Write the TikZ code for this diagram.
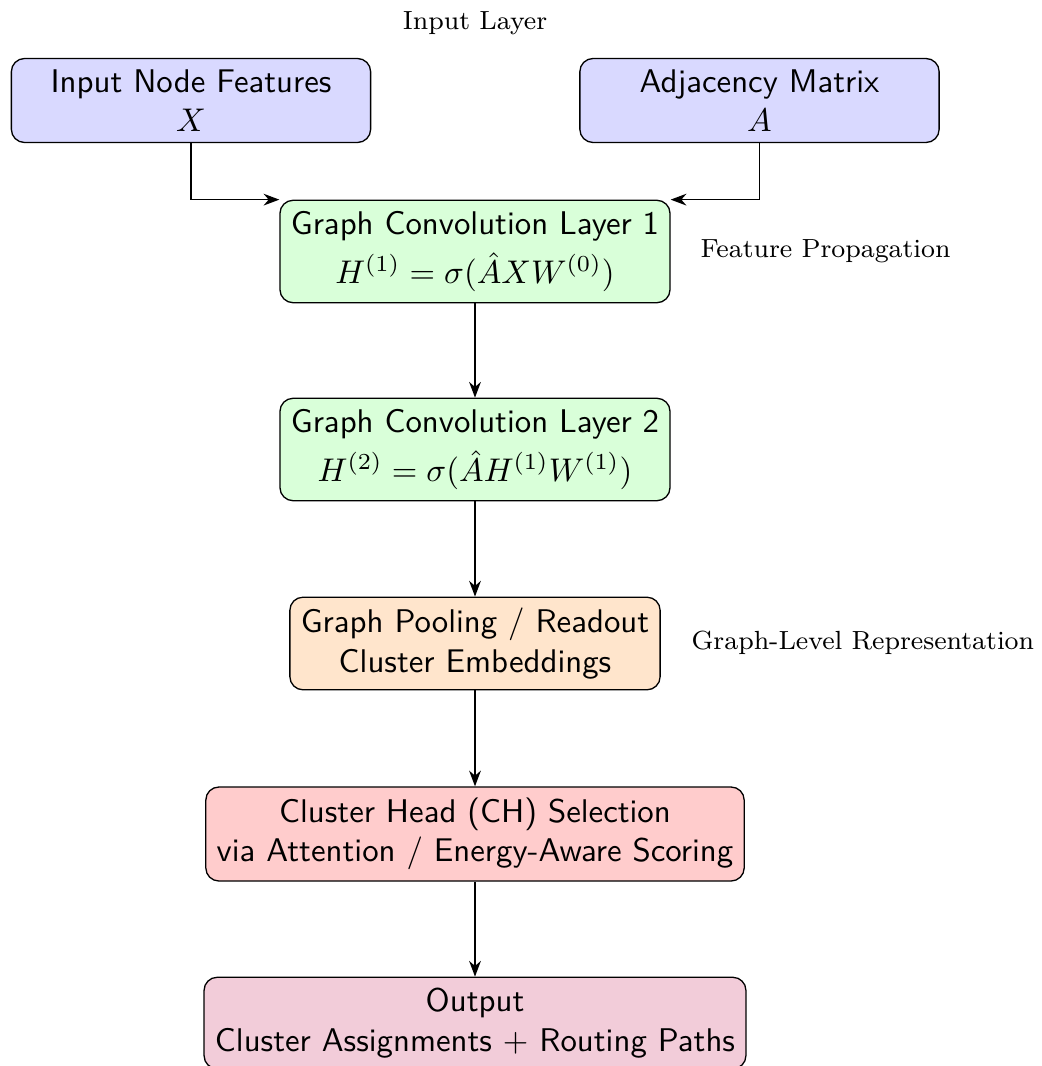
\documentclass[tikz,border=0pt]{standalone}
\usepackage{tikz}
\usetikzlibrary{arrows.meta}

\begin{document}
\begin{tikzpicture}[x=0.3049pt, y=-0.3049pt,
	block/.style={draw, rounded corners, align=center, font=\sffamily},
	note/.style={font=\footnotesize},
	flow/.style={-{Stealth}}]
	\useasboundingbox (0,0) rectangle (1041,1066);

	\node[note] (lin) at (475,23) {Input Layer};
	\node[block, fill=blue!15, minimum width=3.85cm] (feat) at (191,100.5) {Input Node Features\\$X$};
	\node[block, fill=blue!15, minimum width=3.85cm] (adj) at (759.5,100.5) {Adjacency Matrix\\$A$};

	\node[block, fill=green!15] (gc1) at (475,251.5) {Graph Convolution Layer 1\\[3pt]$H^{(1)} = \sigma(\hat{A}XW^{(0)})$};
	\node[note, anchor=west] (lprop) at (689,251) {Feature Propagation};
	\node[block, fill=green!15] (gc2) at (475,449.5) {Graph Convolution Layer 2\\[3pt]$H^{(2)} = \sigma(\hat{A}H^{(1)}W^{(1)})$};

	\node[block, fill=orange!20] (pool) at (475,643.5) {Graph Pooling / Readout\\Cluster Embeddings};
	\node[note, anchor=west] (lrep) at (680,643) {Graph-Level Representation};

	\node[block, fill=red!20] (ch) at (475,834) {Cluster Head (CH) Selection\\via Attention / Energy-Aware Scoring};
	\node[block, fill=purple!20] (out) at (475,1023) {Output\\Cluster Assignments $+$ Routing Paths};

	\draw[flow] (feat.south) |- (gc1.north west);
	\draw[flow] (adj.south) |- (gc1.north east);
	\draw[flow] (gc1) -- (gc2);
	\draw[flow] (gc2) -- (pool);
	\draw[flow] (pool) -- (ch);
	\draw[flow] (ch) -- (out);
\end{tikzpicture}
\end{document}
